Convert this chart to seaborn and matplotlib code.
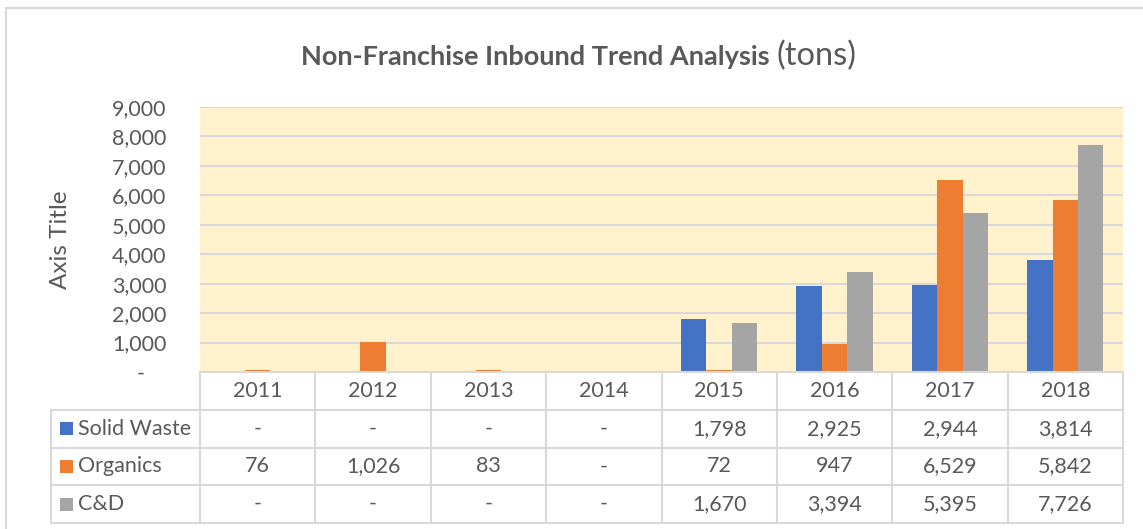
import numpy as np
import pandas as pd
import matplotlib.pyplot as plt
import seaborn as sns
from matplotlib.patches import Rectangle

# chart data
years = ["2011", "2012", "2013", "2014", "2015", "2016", "2017", "2018"]
series = ["Solid Waste", "Organics", "C&D"]
solid_waste = [0, 0, 0, 0, 1798, 2925, 2944, 3814]
organics = [76, 1026, 83, 0, 72, 947, 6529, 5842]
c_and_d = [0, 0, 0, 0, 1670, 3394, 5395, 7726]
y_ticks = [0, 1000, 2000, 3000, 4000, 5000, 6000, 7000, 8000, 9000]
colors = ["#4472C4", "#ED7D31", "#A5A5A5"]

df = pd.DataFrame({"year": years * 3,
                   "series": np.repeat(series, len(years)),
                   "tons": solid_waste + organics + c_and_d})

sns.set_style("white")
plt.rcParams['font.family'] = ['Lato', 'DejaVu Sans']
txt = "#595959"
grid = "#D9D9D9"

W, H = 1143, 529
fig = plt.figure(figsize=(W / 100, H / 100), dpi=100)

def box(x0, y0, x1, y1):
    # pixel box -> figure fraction
    return [x0 / W, 1 - y1 / H, (x1 - x0) / W, (y1 - y0) / H]

# outer chart border
fig.patches.append(Rectangle((6 / W, -0.1), 1.2, 1 - 8 / H + 0.1, transform=fig.transFigure,
                             fill=False, edgecolor=grid, linewidth=1.5))

ax = fig.add_axes(box(200, 107, 1123, 372))
sns.barplot(data=df, x="year", y="tons", hue="series", order=years, hue_order=series,
            palette=colors, width=0.66, saturation=1, legend=False, ax=ax, linewidth=0)
ax.set_facecolor("#FFF2CC")
ax.set_ylim(0, 9000)
ax.set_xlim(-0.5, len(years) - 0.5)
ax.set_yticks(y_ticks)
ax.set_yticklabels(["-    "] + [f"{v:,}" for v in y_ticks[1:]], color=txt, fontsize=15.5)
ax.tick_params(axis="y", length=0, pad=24)
ax.set_xticks([])
ax.set_xlabel("")
ax.set_ylabel("Axis Title", color=txt, fontsize=17.5, labelpad=30)
ax.yaxis.grid(True, color=grid, linewidth=1.5)
ax.set_axisbelow(True)
for s in ax.spines.values():
    s.set_visible(False)

# data table under the chart
tab = fig.add_axes(box(51, 372, 1123, 523))
tab.set_xlim(0, 1072)
tab.set_ylim(151, 0)
tab.axis("off")
leg_w = 149
col_w = (1072 - leg_w) / len(years)
row_h = 151 / 4
lw = 1.5
# horizontal lines
tab.plot([leg_w, 1072], [0, 0], color=grid, lw=lw, clip_on=False)
for r in range(1, 5):
    tab.plot([0, 1072], [r * row_h, r * row_h], color=grid, lw=lw, clip_on=False)
# vertical lines
tab.plot([0, 0], [row_h, 151], color=grid, lw=lw, clip_on=False)
for c in range(len(years) + 1):
    x = leg_w + c * col_w
    tab.plot([x, x], [0, 151], color=grid, lw=lw, clip_on=False)

for c, yr in enumerate(years):
    tab.text(leg_w + (c + 0.5) * col_w, row_h * 0.5, yr, ha="center", va="center",
             color=txt, fontsize=15.5)
for r, (name, vals, col) in enumerate(zip(series, [solid_waste, organics, c_and_d], colors)):
    yc = row_h * (r + 1.5)
    tab.add_patch(Rectangle((9, yc - 6.5), 13, 13, color=col, lw=0))
    tab.text(27, yc, name, ha="left", va="center", color=txt, fontsize=15.5)
    for c, v in enumerate(vals):
        tab.text(leg_w + (c + 0.5) * col_w, yc, f"{v:,}" if v else "-", ha="center",
                 va="center", color=txt, fontsize=15.5)

# title: bold part + regular "(tons)"
t1 = fig.text(0, 1 - 65 / H, "Non-Franchise Inbound Trend Analysis ", fontsize=19.5,
              fontweight="bold", color=txt, va="baseline")
t2 = fig.text(0, 1 - 65 / H, "(tons)", fontsize=23.5, color=txt, va="baseline")
fig.canvas.draw()
r = fig.canvas.get_renderer()
w1 = t1.get_window_extent(r).width
w2 = t2.get_window_extent(r).width
x0 = 579 - (w1 + w2) / 2
t1.set_x(x0 / W)
t2.set_x((x0 + w1) / W)

fig.savefig("out.png", dpi=100)
